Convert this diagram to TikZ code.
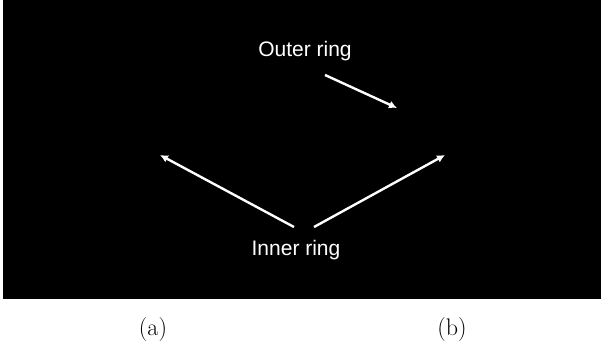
\documentclass[tikz,border=0pt]{standalone}
\usepackage{fontspec}
\setmainfont{Latin Modern Roman}
\newfontfamily\labelfont{Liberation Sans}
\usepackage{tikz}
\usetikzlibrary{arrows.meta,positioning,calc}
\definecolor{screen}{HTML}{000000}
\definecolor{ink}{HTML}{FFFFFF}

\begin{document}
\begin{tikzpicture}[x=1pt,y=-1pt,every node/.style={inner sep=0pt,align=center},ringlabel/.style={text=ink,font=\labelfont\fontsize{21}{24}\selectfont},caption/.style={font=\fontsize{24}{28}\selectfont},pointer/.style={-{Latex[length=8pt,width=8pt]},line width=2.4pt,ink}]
\useasboundingbox (0,0) rectangle (601,344);
\fill[screen] (3,0) rectangle (601,299);
\node[ringlabel] (outer) at (305,51) {Outer ring};
\node[ringlabel] (inner) at (296,250) {Inner ring};
\node[caption] (capa) at (153,330) {(a)};
\node[caption] (capb) at (452,330) {(b)};
\coordinate (outerhit) at (397,108);
\coordinate (innerleft) at (160,155);
\coordinate (innerright) at (445,155);
\draw[pointer] ($(outer.south)+(20,14)$)--(outerhit);
\draw[pointer] ($(inner.north)+(-2,-13)$)--(innerleft);
\draw[pointer] ($(inner.north)+(18,-13)$)--(innerright);
\end{tikzpicture}
\end{document}
